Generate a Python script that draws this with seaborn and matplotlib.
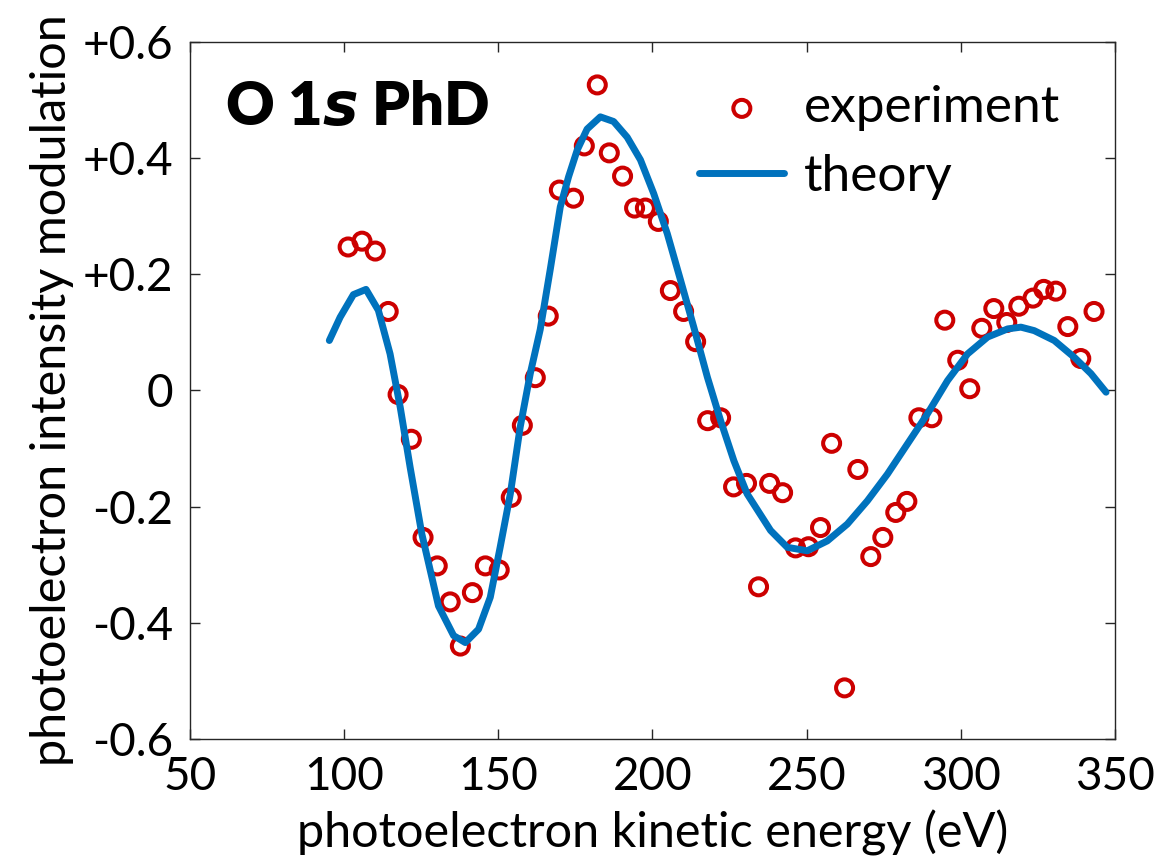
import numpy as np
import pandas as pd
import matplotlib
matplotlib.use("Agg")
import matplotlib.pyplot as plt
import seaborn as sns

#Experiment points (kinetic energy in eV, modulation)
exp_energy = [101.3, 105.8, 110.1, 114.3, 117.5, 121.8, 125.6, 130.2, 134.4, 137.7,
              141.6, 145.8, 150.3, 154.2, 157.8, 162.0, 166.2, 169.8, 174.4, 177.9,
              182.1, 186.0, 190.3, 194.2, 197.7, 201.9, 205.8, 210.1, 214.0, 217.9,
              222.1, 226.3, 230.5, 234.4, 238.0, 242.2, 246.4, 250.6, 254.5, 258.1,
              262.3, 266.6, 270.8, 274.7, 278.9, 282.5, 286.4, 290.6, 294.8, 299.0,
              302.9, 306.8, 310.7, 314.9, 318.8, 323.4, 326.9, 330.8, 334.7, 338.9,
              343.2]
exp_modulation = [0.247, 0.257, 0.240, 0.136, -0.007, -0.084, -0.253, -0.302, -0.364, -0.440,
                  -0.348, -0.302, -0.309, -0.184, -0.060, 0.022, 0.128, 0.345, 0.331, 0.421,
                  0.526, 0.409, 0.369, 0.314, 0.314, 0.291, 0.172, 0.136, 0.084, -0.052,
                  -0.047, -0.166, -0.160, -0.338, -0.160, -0.176, -0.271, -0.269, -0.236, -0.091,
                  -0.512, -0.136, -0.286, -0.253, -0.210, -0.191, -0.047, -0.047, 0.121, 0.052,
                  0.003, 0.107, 0.141, 0.117, 0.145, 0.159, 0.174, 0.171, 0.110, 0.055,
                  0.136]

#Theory curve
theory_energy = [95.2, 98.7, 103.0, 107.1, 111.1, 114.9, 118.2, 121.4, 125.2, 130.6,
                 135.5, 139.3, 143.6, 147.4, 150.6, 153.9, 157.1, 160.4, 163.6, 166.9,
                 170.1, 172.8, 175.6, 178.8, 183.1, 187.4, 191.8, 196.1, 200.4, 204.8,
                 209.1, 213.4, 217.8, 222.1, 226.4, 230.7, 238.3, 243.7, 250.2, 256.7,
                 263.2, 269.7, 276.2, 282.7, 289.2, 295.7, 302.2, 308.7, 315.2, 319.5,
                 323.8, 330.3, 336.8, 342.2, 347.1]
theory_modulation = [0.086, 0.126, 0.165, 0.174, 0.138, 0.063, -0.029, -0.132, -0.247, -0.371,
                     -0.422, -0.434, -0.411, -0.356, -0.270, -0.178, -0.063, 0.030, 0.105, 0.210,
                     0.316, 0.368, 0.414, 0.450, 0.471, 0.463, 0.436, 0.397, 0.339, 0.270,
                     0.190, 0.109, 0.023, -0.052, -0.121, -0.178, -0.241, -0.270, -0.276, -0.259,
                     -0.230, -0.190, -0.144, -0.092, -0.040, 0.017, 0.063, 0.092, 0.106, 0.109,
                     0.103, 0.086, 0.057, 0.029, -0.003]

x_ticks = [50, 100, 150, 200, 250, 300, 350]
y_ticks = [0.6, 0.4, 0.2, 0, -0.2, -0.4, -0.6]
y_tick_labels = ["+0.6", "+0.4", "+0.2", "0", "-0.2", "-0.4", "-0.6"]

RED = "#cc0000"
BLUE = "#0072bd"

sns.set_style("ticks")
plt.rcParams["font.family"] = ["Lato", "DejaVu Sans"]
plt.rcParams["text.color"] = "black"
plt.rcParams["axes.labelcolor"] = "black"

exp_df = pd.DataFrame({"energy": exp_energy, "mod": exp_modulation})
theory_df = pd.DataFrame({"energy": theory_energy, "mod": theory_modulation})

fig = plt.figure(figsize=(11.54, 8.61), dpi=100)
ax = fig.add_axes([0.1646, 0.1417, 0.8016, 0.8096])

sns.scatterplot(data=exp_df, x="energy", y="mod", ax=ax, marker="o", s=150,
                facecolor="none", edgecolor=RED, linewidth=2.9, label="experiment",
                zorder=2)
sns.lineplot(data=theory_df, x="energy", y="mod", ax=ax, color=BLUE, linewidth=5,
             sort=False, label="theory", zorder=3)

ax.set_xlim(50, 350)
ax.set_ylim(-0.6, 0.6)
ax.set_xticks(x_ticks)
ax.set_yticks(y_ticks)
ax.set_yticklabels(y_tick_labels)

ax.tick_params(direction="in", length=7, width=1, top=True, right=True,
               labelsize=33, pad=12, colors="#262626", labelcolor="black")
for side in ["top", "bottom", "left", "right"]:
    ax.spines[side].set_visible(True)
    ax.spines[side].set_color("#262626")
    ax.spines[side].set_linewidth(1)

ax.set_xlabel("photoelectron kinetic energy (eV)", fontsize=35, labelpad=9)
ax.set_ylabel("photoelectron intensity modulation", fontsize=35, labelpad=6)

ax.text(0.038, 0.881, r"O 1$\boldsymbol{s}$ PhD", transform=ax.transAxes,
        fontsize=43, fontweight="heavy", va="baseline", ha="left")

leg = ax.legend(loc="upper right", bbox_to_anchor=(0.98, 0.99), frameon=False,
                fontsize=37, handlelength=1.65, handletextpad=0.39, labelspacing=0.45,
                borderpad=0.2)

fig.savefig("out.png", dpi=100)
